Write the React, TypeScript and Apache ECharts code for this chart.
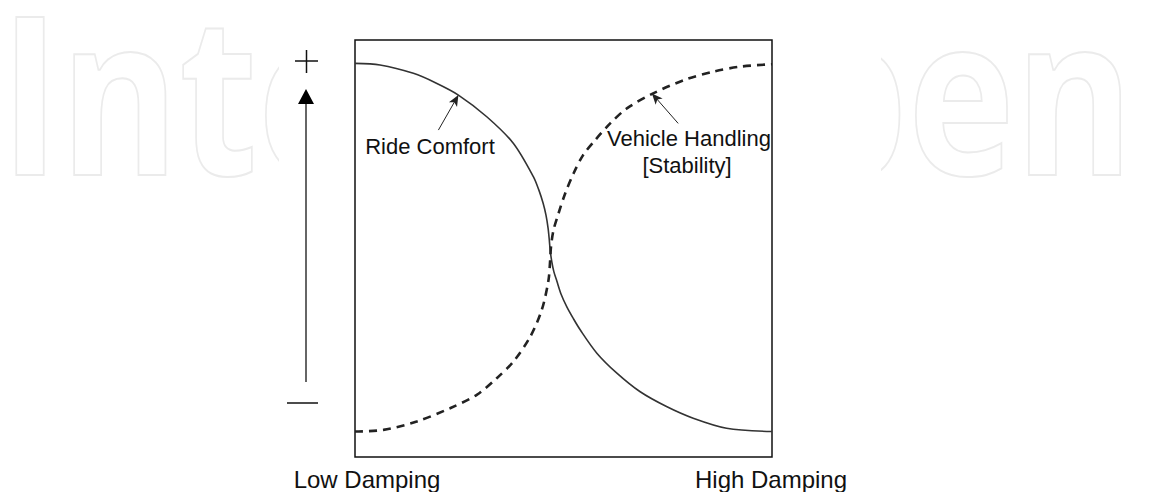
import { useEffect, useRef } from 'react';
import * as echarts from 'echarts';

// Curves: [damping (0 = low, 100 = high), performance (0 = -, 100 = +)]
const rideComfort: [number, number][] = [
  [0, 94.4], [6.0, 94.0], [14.0, 92.0], [19.4, 89.7], [24.8, 86.8], [31.6, 81.6],
  [38.0, 75.2], [42.8, 67.2], [44.1, 64.0], [45.1, 60.9], [45.8, 58.0], [46.3, 54.9],
  [46.6, 52.0], [46.8, 49.6], [47.2, 46.8], [47.7, 44.4], [48.4, 42.2], [49.4, 39.1],
  [50.8, 36.0], [52.3, 33.3], [54.0, 30.5], [58.0, 24.9], [62.8, 20.1], [68.3, 15.7],
  [74.7, 12.1], [81.1, 9.3], [89.1, 6.9], [100, 6.1],
];
const vehicleHandling: [number, number][] = [
  [0, 6.1], [6.8, 6.5], [14.8, 8.5], [22.8, 11.7], [29.2, 14.9], [34.0, 18.9],
  [38.0, 22.9], [42.0, 28.8], [44.8, 35.3], [46.4, 42.4], [46.8, 47.2], [47.0, 50.4],
  [47.6, 54.4], [48.8, 58.4], [50.4, 63.2], [52.4, 68.0], [54.7, 72.4], [57.6, 76.0],
  [61.2, 80.0], [65.2, 83.6], [71.5, 87.2], [79.5, 90.6], [85.9, 92.4], [92.3, 93.6],
  [100, 94.2],
];
// Annotation arrows: [tail, head] in data coordinates
const rideArrow: [number, number][] = [[20.0, 78.4], [24.8, 86.8]];
const handlingArrow: [number, number][] = [[77.5, 80.0], [71.2, 87.2]];

const curveLabels = ['Ride Comfort', 'Vehicle Handling', '[Stability]'];
const dampingLabels = ['Low Damping', 'High Damping'];
const scaleSigns = ['+', '-'];
const watermarkParts = ['Inte', 'pen'];

const FONT = '"Liberation Sans", Arial, sans-serif';

export default function App() {
  const ref = useRef<HTMLDivElement>(null);

  useEffect(() => {
    const chart = echarts.init(ref.current!, null, { renderer: 'svg' });

    const arrowLine = (pts: [number, number][]) => ({
      silent: true,
      symbol: ['none', 'arrow'],
      symbolSize: [7, 11],
      label: { show: false },
      lineStyle: { color: '#222', width: 1, type: 'solid' },
      emphasis: { disabled: true },
      data: [[{ coord: pts[0] }, { coord: pts[1] }]],
    });

    const text = (t: string, x: number, y: number, size: number) => ({
      type: 'text',
      x,
      y,
      z: 50,
      silent: true,
      style: {
        text: t,
        fill: '#111',
        font: `${size}px ${FONT}`,
        align: 'center',
        verticalAlign: 'middle',
      },
    });

    const mark = (t: string, x: number) => ({
      type: 'text',
      x,
      y: 89,
      z: -10,
      scaleX: 0.82,
      silent: true,
      style: {
        text: t,
        font: `bold 221px "Open Sans"`,
        fill: 'none',
        stroke: '#ebebeb',
        lineWidth: 2,
        align: 'left',
        verticalAlign: 'middle',
      },
    });

    chart.setOption({
      animation: false,
      backgroundColor: '#ffffff',
      grid: {
        left: 355,
        top: 40,
        width: 417,
        height: 417,
        show: true,
        borderColor: '#111',
        borderWidth: 1.5,
        backgroundColor: 'transparent',
        z: 5,
      },
      xAxis: { type: 'value', min: 0, max: 100, show: false },
      yAxis: { type: 'value', min: 0, max: 100, show: false },
      graphic: [
        // faint watermark
        mark(watermarkParts[0], 0),
        mark(watermarkParts[1], 793),
        {
          type: 'rect',
          z: -9,
          silent: true,
          shape: { x: 279, y: 0, width: 602, height: 492 },
          style: { fill: '#ffffff' },
        },
        // + / - signs
        {
          type: 'line',
          z: 50,
          silent: true,
          shape: { x1: 295, y1: 61, x2: 318, y2: 61 },
          style: { stroke: '#111', lineWidth: 1.5 },
          info: scaleSigns[0],
        },
        {
          type: 'line',
          z: 50,
          silent: true,
          shape: { x1: 306.5, y1: 50, x2: 306.5, y2: 73 },
          style: { stroke: '#111', lineWidth: 1.5 },
        },
        {
          type: 'line',
          z: 50,
          silent: true,
          shape: { x1: 287, y1: 403, x2: 318, y2: 403 },
          style: { stroke: '#111', lineWidth: 1.5 },
          info: scaleSigns[1],
        },
        // vertical arrow
        {
          type: 'line',
          z: 50,
          silent: true,
          shape: { x1: 306, y1: 102, x2: 306, y2: 382 },
          style: { stroke: '#666', lineWidth: 2 },
        },
        {
          type: 'polygon',
          z: 50,
          silent: true,
          shape: { points: [[306, 89], [298, 104], [314, 104]] },
          style: { fill: '#000' },
        },
        text(curveLabels[0], 430, 146, 22),
        text(curveLabels[1], 689, 138, 22),
        text(curveLabels[2], 687, 165, 22),
        text(dampingLabels[0], 367, 479, 24),
        text(dampingLabels[1], 771, 479, 24),
      ],
      series: [
        {
          name: 'Ride Comfort',
          type: 'line',
          data: rideComfort,
          smooth: 0.3,
          showSymbol: false,
          symbol: 'none',
          lineStyle: { color: '#333', width: 1.6, type: 'solid' },
          markLine: arrowLine(rideArrow),
          z: 10,
        },
        {
          name: 'Vehicle Handling',
          type: 'line',
          data: vehicleHandling,
          smooth: 0.3,
          showSymbol: false,
          symbol: 'none',
          lineStyle: { color: '#222', width: 2.6, type: [8, 6] },
          markLine: arrowLine(handlingArrow),
          z: 10,
        },
      ],
    });

    return () => chart.dispose();
  }, []);

  return (
    <div
      ref={ref}
      style={{ position: 'fixed', left: 0, top: 0, width: 1149, height: 492, background: '#fff' }}
    />
  );
}
